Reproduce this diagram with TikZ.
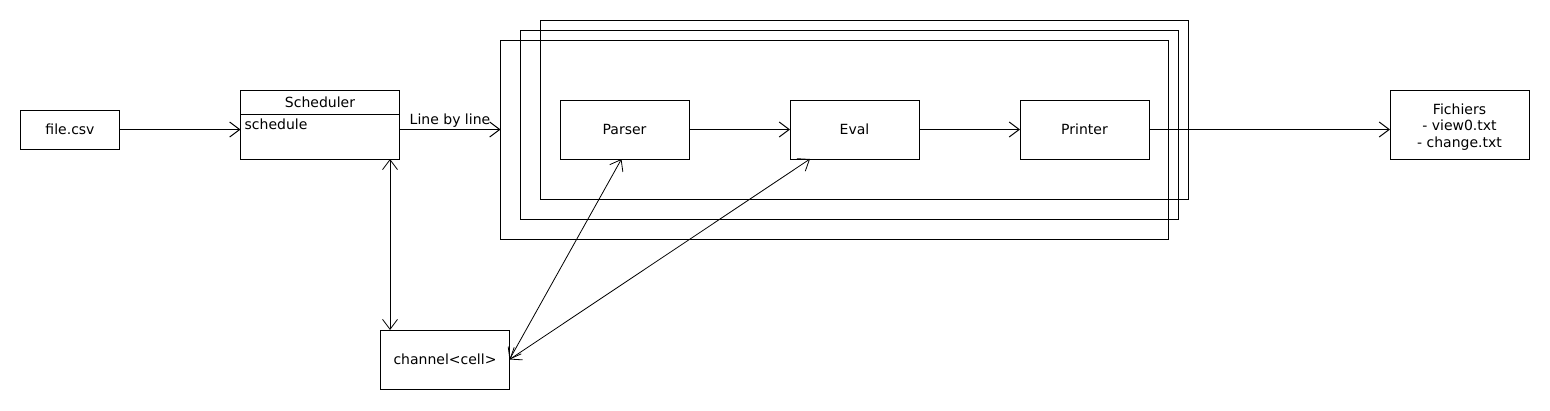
\documentclass[tikz,border=0pt]{standalone}
\usepackage{fontspec}
\setmainfont{DejaVu Sans}
\usetikzlibrary{arrows.meta,calc}
\begin{document}
\begin{tikzpicture}[x=1pt,y=-1pt,
  every node/.style={font=\fontsize{14}{16.5}\selectfont},
  box/.style={draw=black,line width=1pt,inner sep=0pt,outer sep=0pt,align=center},
  frm/.style={draw=black,line width=1pt,inner sep=0pt,outer sep=0pt},
  conn/.style={line width=1pt,-{Straight Barb[length=10pt,width=15pt,line width=1pt]}},
  dconn/.style={line width=0.8pt,{Straight Barb[length=10pt,width=15pt,line width=0.8pt]}-{Straight Barb[length=10pt,width=15pt,line width=0.8pt]}},
  lbl/.style={inner sep=1pt}
]
\useasboundingbox (0,0) rectangle (1550,410);
% stacked frames
\node[frm,minimum width=648pt,minimum height=179pt] (frameC) at (864.5,109.5) {};
\node[frm,minimum width=658pt,minimum height=189pt] (frameB) at (849.5,124.5) {};
\node[frm,minimum width=668pt,minimum height=199pt] (frameA) at (834.5,139.5) {};
% nodes
\node[box,minimum width=99pt,minimum height=39pt] (file) at (70,129.5) {file.csv};
\node[box,minimum width=159pt,minimum height=69pt] (sched) at (320,124.5) {};
\node[lbl] (schedtitle) at (320,102.5) {Scheduler};
\node[lbl,anchor=west] (schedop) at (243.5,124) {schedule};
\draw[line width=1pt] (sched.west |- 0,114) coordinate (sepL) -- (sched.east |- 0,114) coordinate (sepR);
\node[box,minimum width=129pt,minimum height=59pt] (parser) at (624.5,129.5) {Parser};
\node[box,minimum width=129pt,minimum height=59pt] (eval) at (854.5,129.5) {Eval};
\node[box,minimum width=129pt,minimum height=59pt] (printer) at (1084.5,129.5) {Printer};
\node[box,minimum width=139pt,minimum height=69pt] (fich) at (1459.5,124.5) {};
\node[lbl,align=center] (fichtxt) at ($(fich.center)+(0,2.5)$) {Fichiers\\ - view0.txt\\ - change.txt};
\node[box,minimum width=129pt,minimum height=59pt] (chan) at (445,359.5) {channel<cell>};
% connectors
\draw[conn] (file.east) -- (sched.west |- file.east);
\draw[conn] (sched.east |- parser.west) -- node[above,lbl,yshift=1pt] (lbl1) {Line by line} (frameA.west |- parser.west);
\draw[conn] (parser.east) -- (eval.west);
\draw[conn] (eval.east) -- (printer.west);
\draw[conn] (printer.east) -- (fich.west |- printer.east);
\draw[dconn] ($(sched.south east)+(-9.5,0)$) -- ($(chan.north west)+(9.5,0)$);
\draw[dconn] (chan.east) -- ($(parser.south)+(-3,0)$);
\draw[dconn] (chan.east) -- ($(eval.south west)+(20,0)$);
\end{tikzpicture}
\end{document}
